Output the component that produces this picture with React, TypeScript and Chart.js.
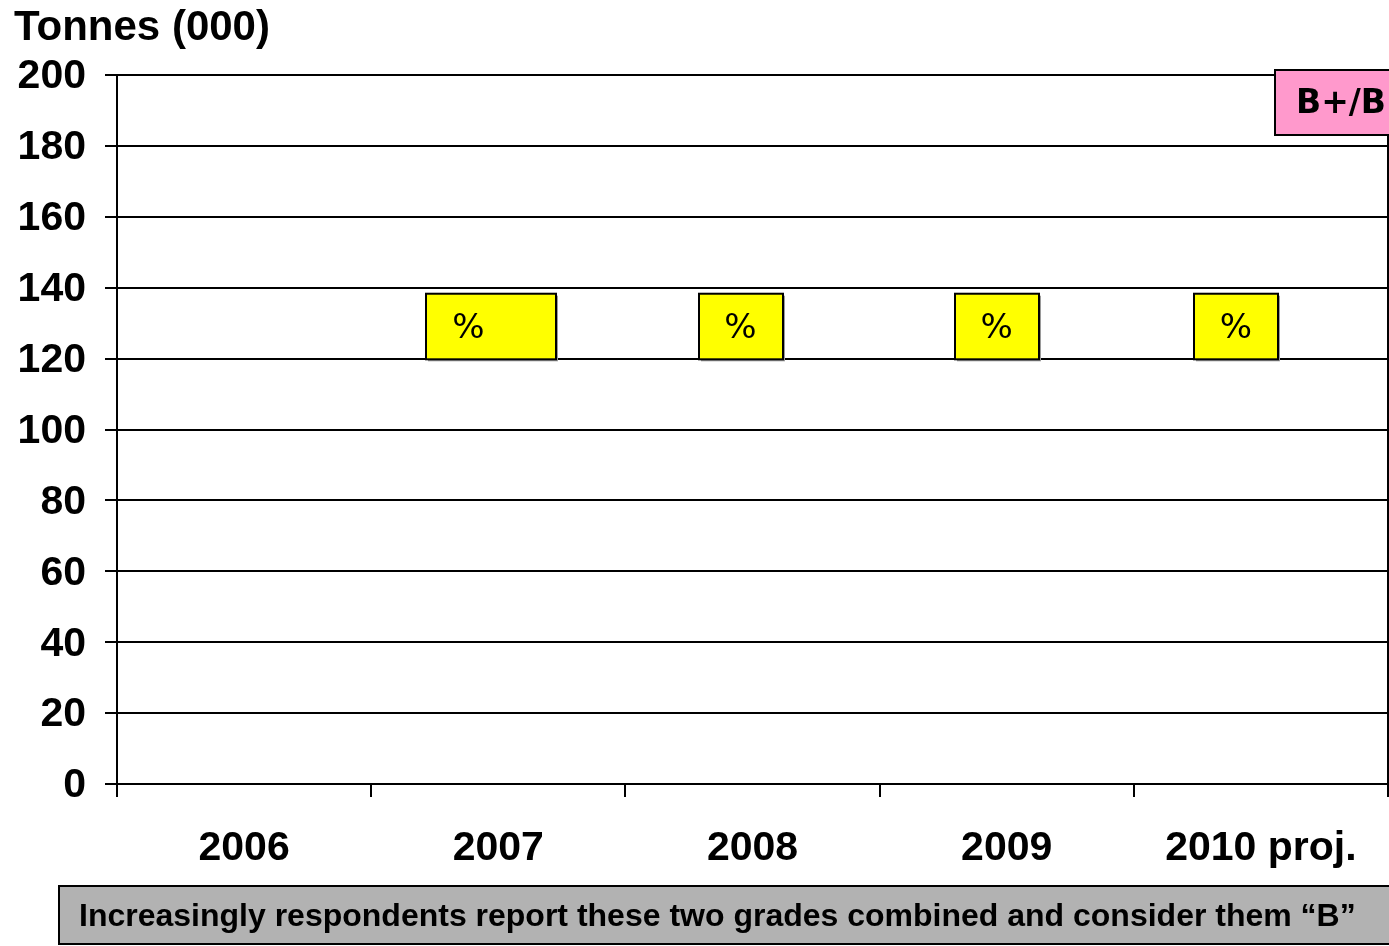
import React, { useEffect, useRef } from "react";
import { Chart, registerables } from "chart.js";

Chart.register(...registerables);

// Categories along the horizontal axis
const CATEGORIES = ["2006", "2007", "2008", "2009", "2010 proj."];
// Tonnage per year (000 t) – no volumes are plotted for the B+/B grade
const TONNES: (number | null)[] = [null, null, null, null, null];
// Vertical axis range
const Y_MIN = 0;
const Y_MAX = 200;
const Y_STEP = 20;
// Share call-outs per year
const SHARE_LABELS = ["", "%", "%", "%", "%"];
// Texts
const AXIS_TITLE = "Tonnes (000)";
const GRADE_LABEL = "B+/B";
const FOOTNOTE =
  "Increasingly respondents report these two grades combined and consider them \u201CB\u201D";

const SANS = '"Liberation Sans", Arial, sans-serif';
const VERDANA = '"DejaVu Sans", Verdana, sans-serif';

// Call-out box geometry (pixels relative to each category centre)
const calloutStyle = {
  low: 119.8,
  high: 138.3,
  offsets: [0, -7, -12, -10, -25],
  widths: [0, 130, 84, 84, 84],
  textShift: [0, -23, 0, 0, 0],
};

const overlayPlugin = {
  id: "overlay",
  afterDraw(chart: any) {
    const { ctx, chartArea } = chart;
    const x = chart.scales.x;
    const y = chart.scales.y;
    ctx.save();

    // right frame of the plot area
    ctx.strokeStyle = "#000";
    ctx.lineWidth = 2;
    ctx.beginPath();
    ctx.moveTo(chartArea.right, chartArea.top);
    ctx.lineTo(chartArea.right, chartArea.bottom);
    ctx.stroke();

    // yellow share call-outs
    const top = y.getPixelForValue(calloutStyle.high);
    const bottom = y.getPixelForValue(calloutStyle.low);
    SHARE_LABELS.forEach((label, i) => {
      if (!label) return;
      const w = calloutStyle.widths[i];
      const cx = x.getPixelForValue(i) + calloutStyle.offsets[i];
      const left = Math.round(cx - w / 2);
      const h = bottom - top;
      ctx.fillStyle = "#9a9a9a";
      ctx.fillRect(left + 2, top + 2, w, h);
      ctx.fillStyle = "#ffff00";
      ctx.fillRect(left, top, w, h);
      ctx.strokeStyle = "#000";
      ctx.lineWidth = 2;
      ctx.strokeRect(left, top, w, h);
      ctx.fillStyle = "#000";
      ctx.font = `34px ${VERDANA}`;
      ctx.textAlign = "center";
      ctx.textBaseline = "middle";
      ctx.fillText(label, cx + calloutStyle.textShift[i], (top + bottom) / 2 + 3);
    });

    // grade badge
    ctx.fillStyle = "#ff99cc";
    ctx.fillRect(1275, 70, 120, 65);
    ctx.strokeStyle = "#000";
    ctx.lineWidth = 2;
    ctx.strokeRect(1275, 70, 120, 65);
    ctx.fillStyle = "#000";
    ctx.font = `bold 33px ${VERDANA}`;
    ctx.textAlign = "left";
    ctx.textBaseline = "middle";
    ctx.fillText(GRADE_LABEL, 1296, 104);

    // axis title
    ctx.font = `bold 42px ${SANS}`;
    ctx.textAlign = "left";
    ctx.textBaseline = "alphabetic";
    ctx.fillText(AXIS_TITLE, 14, 40);

    // footnote bar
    ctx.fillStyle = "#b2b2b2";
    ctx.fillRect(59, 886, 1340, 58);
    ctx.strokeStyle = "#000";
    ctx.lineWidth = 2;
    ctx.strokeRect(59, 886, 1340, 58);
    ctx.fillStyle = "#000";
    ctx.font = `bold 32px ${SANS}`;
    ctx.textBaseline = "middle";
    ctx.fillText(FOOTNOTE, 79, 917);

    ctx.restore();
  },
};

export default function App() {
  const canvasRef = useRef<HTMLCanvasElement | null>(null);

  useEffect(() => {
    document.body.style.margin = "0";
    const canvas = canvasRef.current;
    if (!canvas) return;
    const chart = new Chart(canvas, {
      type: "bar",
      data: {
        labels: CATEGORIES,
        datasets: [
          {
            label: "B+/B",
            data: TONNES,
            backgroundColor: "#9999ff",
            borderColor: "#000",
            borderWidth: 1,
          },
        ],
      },
      options: {
        responsive: false,
        animation: false,
        devicePixelRatio: 1,
        layout: { padding: { top: 75, left: 0, right: 1, bottom: 62 } },
        plugins: {
          legend: { display: false },
          tooltip: { enabled: false },
          title: { display: false },
        },
        scales: {
          x: {
            offset: true,
            grid: {
              offset: true,
              drawOnChartArea: false,
              drawTicks: true,
              tickLength: 13,
              tickColor: "#000",
              lineWidth: 2,
            },
            border: { display: true, color: "#000", width: 2 },
            ticks: {
              color: "#000",
              font: { family: SANS, size: 41, weight: "bold" },
              padding: 27,
              maxRotation: 0,
              autoSkip: false,
            },
            afterFit(scale: any) {
              scale.height = 100;
            },
          },
          y: {
            min: Y_MIN,
            max: Y_MAX,
            ticks: {
              stepSize: Y_STEP,
              color: "#000",
              font: { family: SANS, size: 41, weight: "bold" },
              padding: 19,
              labelOffset: 2,
            },
            grid: {
              color: "#000",
              lineWidth: 2,
              tickLength: 12,
              drawTicks: true,
            },
            border: { display: true, color: "#000", width: 2 },
            afterFit(scale: any) {
              scale.width = 117;
            },
          },
        },
      },
      plugins: [overlayPlugin],
    });
    return () => chart.destroy();
  }, []);

  return (
    <div style={{ position: "absolute", left: 0, top: 0, width: 1389, height: 946, background: "#fff" }}>
      <canvas ref={canvasRef} width={1389} height={946} />
    </div>
  );
}
